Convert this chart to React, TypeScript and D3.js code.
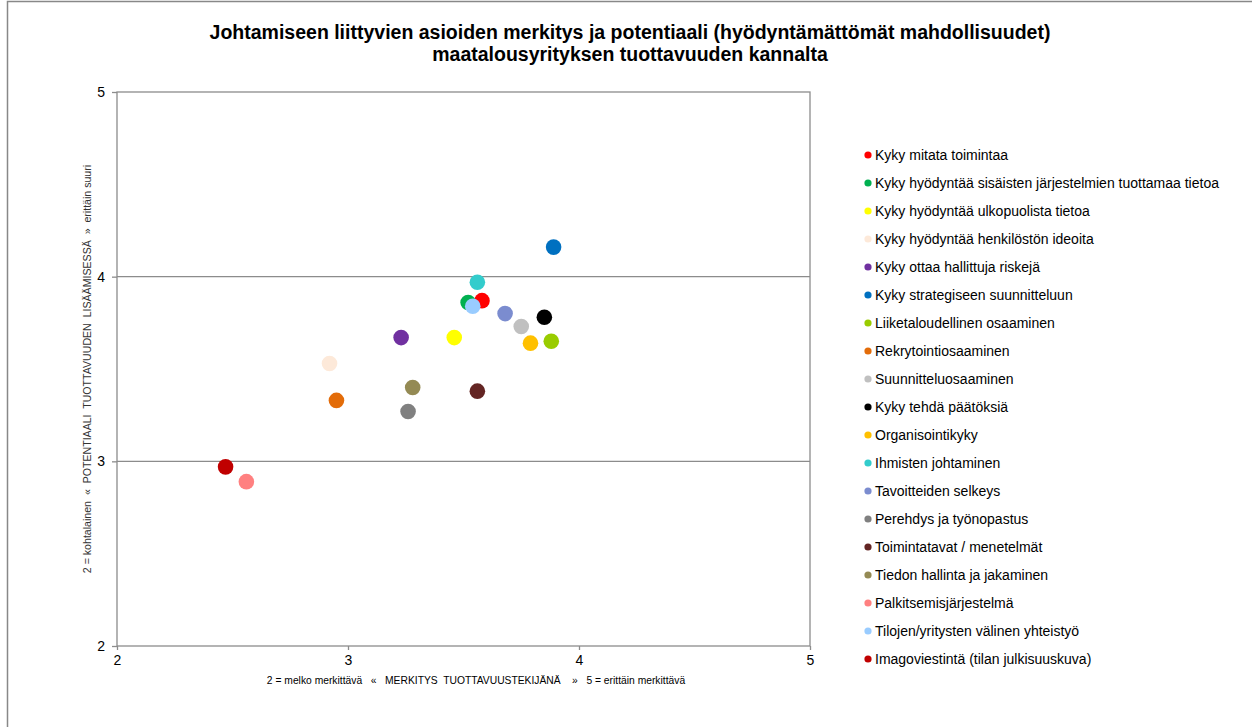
import * as d3 from "d3";
import React, { useRef, useEffect } from "react";

const titleLines = [
  "Johtamiseen liittyvien asioiden merkitys ja potentiaali (hyödyntämättömät mahdollisuudet)",
  "maatalousyrityksen tuottavuuden kannalta",
];
const xTitle = "2 = melko merkittävä   «   MERKITYS  TUOTTAVUUSTEKIJÄNÄ    »   5 = erittäin merkittävä";
const yTitle = "2 = kohtalainen  «  POTENTIAALI  TUOTTAVUUDEN  LISÄÄMISESSÄ  »  erittäin suuri";

const categories = [
  "Kyky mitata toimintaa",
  "Kyky hyödyntää sisäisten järjestelmien tuottamaa tietoa",
  "Kyky hyödyntää ulkopuolista tietoa",
  "Kyky hyödyntää henkilöstön ideoita",
  "Kyky ottaa hallittuja riskejä",
  "Kyky strategiseen suunnitteluun",
  "Liiketaloudellinen osaaminen",
  "Rekrytointiosaaminen",
  "Suunnitteluosaaminen",
  "Kyky tehdä päätöksiä",
  "Organisointikyky",
  "Ihmisten johtaminen",
  "Tavoitteiden selkeys",
  "Perehdys ja työnopastus",
  "Toimintatavat / menetelmät",
  "Tiedon hallinta ja jakaminen",
  "Palkitsemisjärjestelmä",
  "Tilojen/yritysten välinen yhteistyö",
  "Imagoviestintä (tilan julkisuuskuva)",
];
const merkitys = [3.58, 3.52, 3.46, 2.92, 3.23, 3.89, 3.88, 2.95, 3.75, 3.85, 3.79, 3.56, 3.68, 3.26, 3.56, 3.28, 2.56, 3.54, 2.47];
const potentiaali = [3.87, 3.86, 3.67, 3.53, 3.67, 4.16, 3.65, 3.33, 3.73, 3.78, 3.64, 3.97, 3.80, 3.27, 3.38, 3.40, 2.89, 3.84, 2.97];
const colors = [
  "#ff0000", "#00b050", "#ffff00", "#fde9d9", "#7030a0", "#0070c0", "#99cc00",
  "#e36c09", "#c0c0c0", "#000000", "#ffc000", "#33cccc", "#7b8ccf", "#808080",
  "#632523", "#948a54", "#ff8080", "#99ccff", "#c00000",
];
const ticks = [2, 3, 4, 5];

const W = 1252;
const H = 727;
const plot = { left: 117, right: 810, top: 92, bottom: 646 };
const font = "Liberation Sans, Arial, sans-serif";

function App() {
  const ref = useRef<any>();

  useEffect(() => {
    const svg = d3.select(ref.current);
    svg.selectAll("*").remove();

    const x = d3.scaleLinear().domain([2, 5]).range([plot.left, plot.right]);
    const y = d3.scaleLinear().domain([2, 5]).range([plot.bottom, plot.top]);

    // outer chart frame (only top and left edges are visible)
    svg.append("rect")
      .attr("x", 7.5).attr("y", 1.5)
      .attr("width", W + 10).attr("height", H + 10)
      .attr("fill", "white").attr("stroke", "#888").attr("stroke-width", 1.5);

    // title
    svg.append("g").selectAll("text").data(titleLines).enter().append("text")
      .attr("x", 630)
      .attr("y", (d: any, i: number) => 39 + i * 22)
      .attr("text-anchor", "middle")
      .attr("font-family", font)
      .attr("font-weight", "bold")
      .attr("font-size", 19.5)
      .text((d: any) => d);

    // grid lines
    svg.append("g").selectAll("line").data([3, 4]).enter().append("line")
      .attr("x1", plot.left).attr("x2", plot.right)
      .attr("y1", (d: any) => y(d)).attr("y2", (d: any) => y(d))
      .attr("stroke", "#8c8c8c").attr("stroke-width", 1.3);

    // plot border
    svg.append("rect")
      .attr("x", plot.left).attr("y", plot.top)
      .attr("width", plot.right - plot.left).attr("height", plot.bottom - plot.top)
      .attr("fill", "none").attr("stroke", "#8c8c8c").attr("stroke-width", 1.3);

    // y axis
    const yAxis = svg.append("g").attr("transform", `translate(${plot.left},0)`)
      .call(d3.axisLeft(y).tickValues(ticks).tickSize(5).tickPadding(7).tickFormat(d3.format("d")));
    yAxis.select(".domain").remove();
    yAxis.selectAll("line").attr("stroke", "#8c8c8c").attr("stroke-width", 1.3);
    yAxis.selectAll("text").attr("font-family", font).attr("font-size", 14).attr("fill", "#000");

    // x axis
    const xAxis = svg.append("g").attr("transform", `translate(0,${plot.bottom})`)
      .call(d3.axisBottom(x).tickValues(ticks).tickSize(4).tickPadding(5).tickFormat(d3.format("d")));
    xAxis.select(".domain").remove();
    xAxis.selectAll("line").attr("stroke", "#8c8c8c").attr("stroke-width", 1.3);
    xAxis.selectAll("text").attr("font-family", font).attr("font-size", 14).attr("fill", "#000");

    // axis titles
    svg.append("text")
      .attr("x", 476).attr("y", 684)
      .attr("text-anchor", "middle")
      .attr("font-family", font).attr("font-size", 10.3)
      .style("white-space", "pre")
      .text(xTitle);
    svg.append("text")
      .attr("transform", `translate(91,${369}) rotate(-90)`)
      .attr("text-anchor", "middle")
      .attr("font-family", font).attr("font-size", 10.6)
      .attr("fill", "#333")
      .style("white-space", "pre")
      .text(yTitle);

    // points
    svg.append("g").selectAll("circle").data(categories).enter().append("circle")
      .attr("cx", (d: any, i: number) => x(merkitys[i]))
      .attr("cy", (d: any, i: number) => y(potentiaali[i]))
      .attr("r", 7.8)
      .attr("fill", (d: any, i: number) => colors[i]);

    // legend
    const legend = svg.append("g").selectAll("g").data(categories).enter().append("g")
      .attr("transform", (d: any, i: number) => `translate(868,${155 + i * 28})`);
    legend.append("circle").attr("r", 3.6).attr("fill", (d: any, i: number) => colors[i]);
    legend.append("text")
      .attr("x", 7).attr("y", 5)
      .attr("font-family", font).attr("font-size", 14)
      .text((d: any) => d);
  }, []);

  return (
    <svg
      ref={ref}
      width={W}
      height={H}
      style={{ position: "absolute", left: 0, top: 0, background: "white" }}
    ></svg>
  );
}

export default App;
